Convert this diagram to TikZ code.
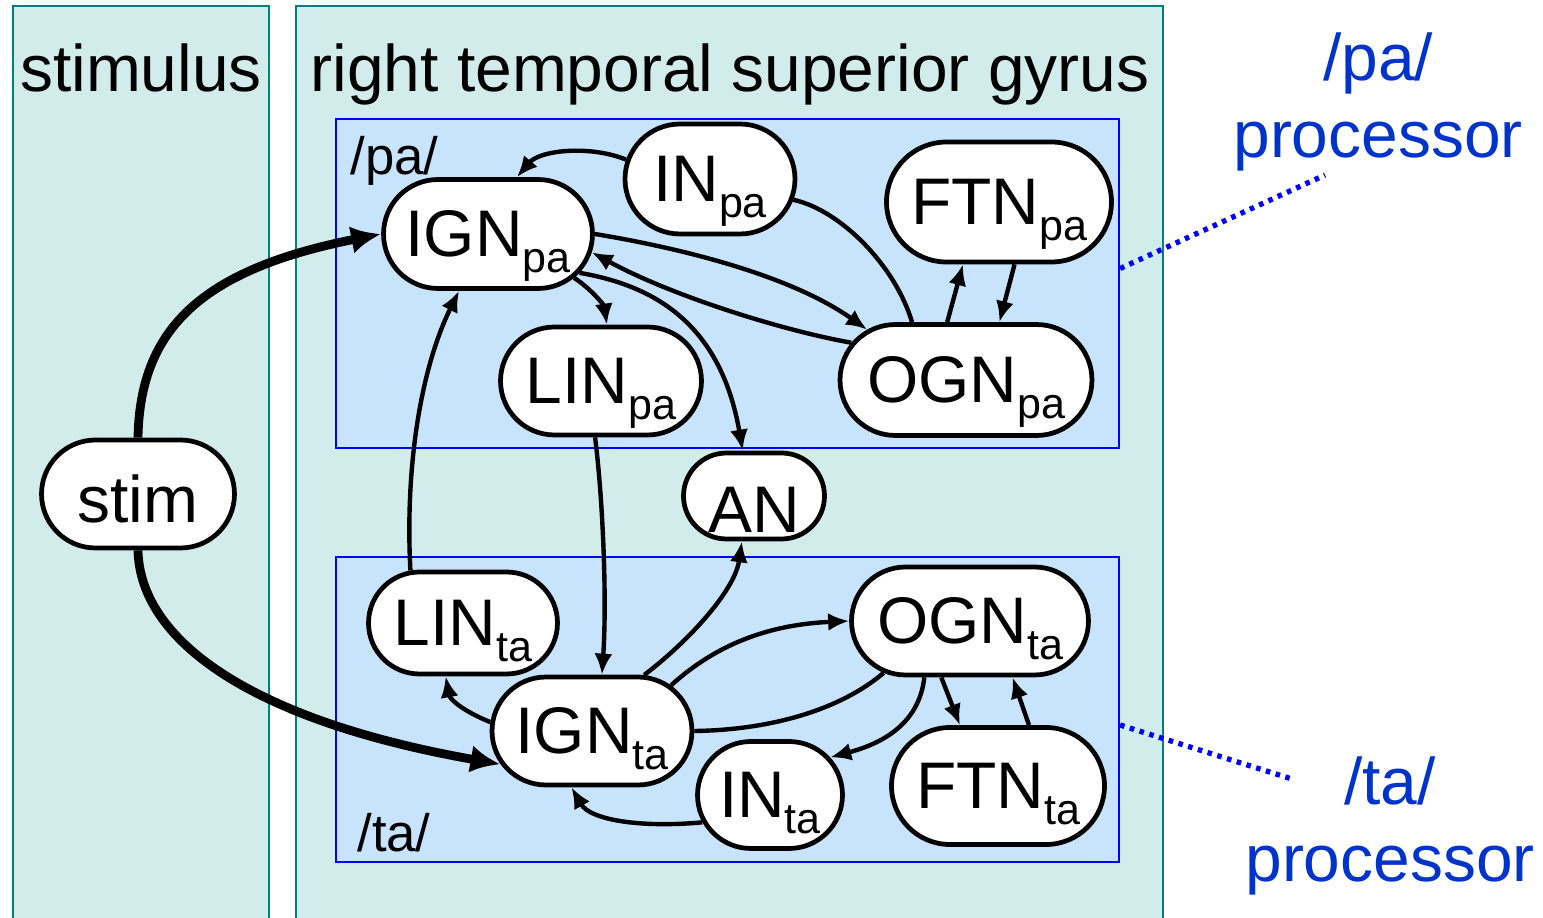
\documentclass[tikz,border=0pt]{standalone}
\usepackage{fontspec}
\setmainfont{Liberation Sans}
\usetikzlibrary{arrows.meta,shapes.misc}

\definecolor{panelFill}{HTML}{D2ECEC}
\definecolor{panelLine}{HTML}{008080}
\definecolor{procFill}{HTML}{C8E4FC}
\definecolor{procLine}{HTML}{0000FF}
\definecolor{procText}{HTML}{0033CC}

\newcommand{\unitsub}[1]{\smash{\raisebox{-0.31cm}{\fontsize{24.5}{24.5}\selectfont #1}}}
\newcommand{\unitlbl}[2]{\makebox[0pt]{#1\unitsub{#2}}}

\begin{document}
\begin{tikzpicture}[x=0.02cm, y=0.02cm,
    every node/.style={font=\fontsize{37.5}{44}\selectfont},
    unitNode/.style={rounded rectangle, draw, line width=2.7pt, fill=white, inner sep=0pt},
    linkArrow/.style={-{Latex[length=0.42cm,width=0.36cm]}, line width=2.5pt},
    linkLine/.style={line width=2.5pt},
    inputArrow/.style={-{Latex[length=0.6cm,width=0.55cm]}, line width=5pt},
    procBox/.style={draw=procLine, fill=procFill, line width=1.3pt, inner sep=0pt},
    areaPanel/.style={draw=panelLine, fill=panelFill, line width=1.4pt},
    pointerLine/.style={procLine, line width=3pt, dash pattern=on 2.6pt off 3.2pt}]

\useasboundingbox (0,0) rectangle (1543,-918);
\clip (0,0) rectangle (1543,-918);

% Brain areas
\draw[areaPanel] (13,-6) rectangle (269,-930);
\draw[areaPanel] (296,-6) rectangle (1163,-930);
\node[anchor=base] (stimTitle) at (141,-92) {stimulus};
\node[anchor=base] (rtsgTitle) at (730,-92) {right temporal superior gyrus};

% Processor boxes
\node[procBox, minimum width=15.66cm, minimum height=6.58cm] (paBox) at (727.5,-283.5) {};
\node[procBox, minimum width=15.66cm, minimum height=6.1cm] (taBox) at (727.5,-709.5) {};
\node[font=\fontsize{30}{36}\selectfont, anchor=base west, inner sep=0pt] (paTag) at (350,-175) {/pa/};
\node[font=\fontsize{30}{36}\selectfont, anchor=base west, inner sep=0pt] (taTag) at (357,-852) {/ta/};

% Units
\node[unitNode, minimum width=3.86cm, minimum height=2.16cm] (stim) at (138,-494) {\makebox[0pt]{\raisebox{-0.1cm}[\height][0pt]{stim}}};
\node[unitNode, minimum width=4.18cm, minimum height=2.18cm] (ignpa) at (488,-234) {\unitlbl{IGN}{pa}};
\node[unitNode, minimum width=3.4cm, minimum height=2.2cm] (inpa) at (710,-179) {\unitlbl{IN}{pa}};
\node[unitNode, minimum width=4.02cm, minimum height=2.16cm] (linpa) at (601,-381) {\unitlbl{LIN}{pa}};
\node[unitNode, minimum width=4.5cm, minimum height=2.4cm] (ftnpa) at (999,-202) {\unitlbl{FTN}{pa}};
\node[unitNode, minimum width=5.04cm, minimum height=2.22cm] (ognpa) at (966,-380) {\unitlbl{OGN}{pa}};
\node[unitNode, minimum width=2.82cm, minimum height=1.72cm] (an) at (754,-496) {\makebox[0pt]{\raisebox{-0.28cm}[\height][0pt]{AN}}};
\node[unitNode, minimum width=3.78cm, minimum height=2.04cm] (linta) at (463,-623) {\unitlbl{LIN}{ta}};
\node[unitNode, minimum width=4.0cm, minimum height=2.16cm] (ignta) at (592,-731) {\unitlbl{IGN}{ta}};
\node[unitNode, minimum width=2.9cm, minimum height=2.14cm] (inta) at (770,-795) {\unitlbl{IN}{ta}};
\node[unitNode, minimum width=4.74cm, minimum height=2.16cm] (ognta) at (970,-621) {\unitlbl{OGN}{ta}};
\node[unitNode, minimum width=4.26cm, minimum height=2.34cm] (ftnta) at (998,-786) {\unitlbl{FTN}{ta}};

% Input from the stimulus
\draw[inputArrow] (stim.north) .. controls (140,-330) and (200,-270) .. (ignpa.west);
\draw[inputArrow] (stim.south) .. controls (140,-640) and (250,-720) .. (ignta.200);

% /pa/ links
\draw[linkArrow] (inpa.167) .. controls (590,-145) and (540,-150) .. (ignpa.63);
\draw[linkLine] (inpa.346) .. controls (840,-210) and (895,-265) .. (ognpa.133);
\draw[linkArrow] (ignpa.east) .. controls (680,-248) and (790,-275) .. (ognpa.153);
\draw[linkArrow] (ognpa.162) .. controls (780,-330) and (670,-295) .. (ignpa.350);
\draw[linkArrow] (ignpa.333) .. controls (590,-288) and (604,-305) .. (linpa.84);
\draw[linkArrow] (ignpa.337) .. controls (650,-285) and (720,-320) .. (an.104);
\draw[linkArrow] (ognpa.108) -- (ftnpa.240);
\draw[linkArrow] (ftnpa.284) -- (ognpa.60);

% cross links
\draw[linkArrow] (linta.135) .. controls (405,-470) and (420,-370) .. (ignpa.243);
\draw[linkArrow] (linpa.264) .. controls (603,-500) and (607,-600) .. (ignta.80);

% /ta/ links
\draw[linkArrow] (ignta.47) .. controls (690,-640) and (735,-590) .. (an.255);
\draw[linkArrow] (ignta.175) .. controls (465,-712) and (450,-700) .. (linta.252);
\draw[linkArrow] (ignta.30) .. controls (710,-650) and (760,-625) .. (ognta.west);
\draw[linkLine] (ognta.211) .. controls (840,-710) and (770,-730) .. (ignta.east);
\draw[linkArrow] (ognta.231) .. controls (920,-715) and (895,-740) .. (inta.32);
\draw[linkArrow] (ognta.243) -- (ftnta.122);
\draw[linkArrow] (ftnta.63) -- (ognta.307);
\draw[linkArrow] (inta.202) .. controls (640,-828) and (590,-820) .. (ignta.250);

% Processor callouts
\coordinate (paPoint) at (1325,-175);
\coordinate (taPoint) at (1295,-780);
\draw[pointerLine] ([yshift=0.3cm]paBox.east) -- (paPoint);
\draw[pointerLine] ([yshift=-0.31cm]taBox.east) -- (taPoint);
\node[text=procText, align=center] (paLabel) at (1378,-102) {/pa/\\processor};
\node[text=procText, align=center] (taLabel) at (1390,-826) {/ta/\\processor};

\end{tikzpicture}
\end{document}
